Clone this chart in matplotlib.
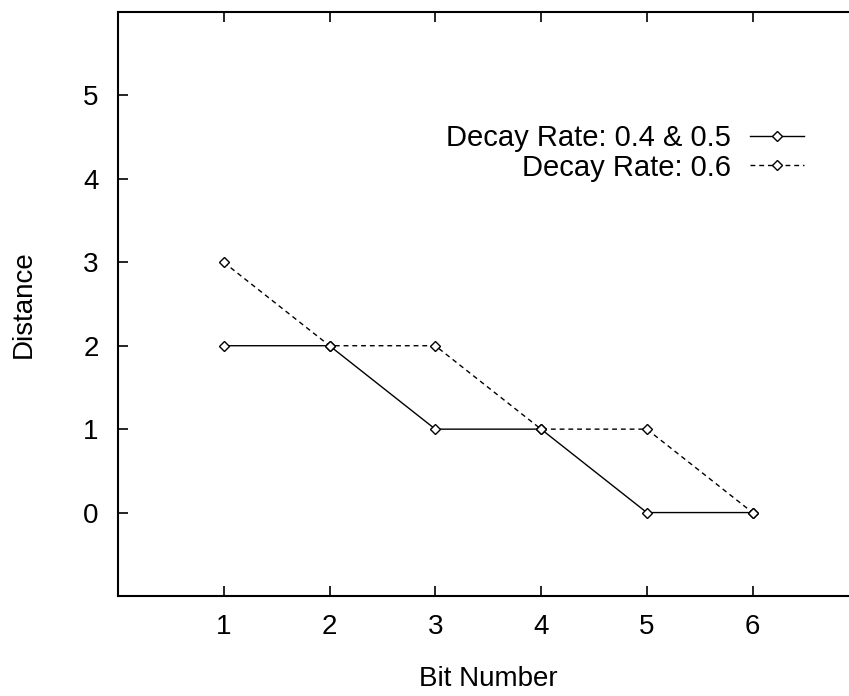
import matplotlib
matplotlib.use("Agg")
from matplotlib import pyplot as plt

plt.rcParams['font.family'] = ['Liberation Sans', 'DejaVu Sans']

bits = [1, 2, 3, 4, 5, 6]
dist_04_05 = [2, 2, 1, 1, 0, 0]
dist_06 = [3, 2, 2, 1, 1, 0]
labels = ["Decay Rate: 0.4 & 0.5", "Decay Rate: 0.6"]

fig = plt.figure(figsize=(8.49, 6.96), dpi=100)
ax = fig.add_axes([0.139, 0.1437, 0.872, 0.839])

style = dict(color="black", linewidth=1.0, marker="D", markersize=5.5,
             markerfacecolor="white", markeredgecolor="black", markeredgewidth=1.0)
ax.plot(bits, dist_04_05, label=labels[0], **style)
ax.plot(bits, dist_06, linestyle=(0, (3.5, 2.8)), label=labels[1], **style)

ax.set_xlim(0, 7)
ax.set_ylim(-1, 6)
ax.set_xticks(bits)
ax.set_yticks(range(0, 6))
ax.tick_params(direction="in", top=True, right=False, length=7, width=1.2,
               labelsize=20)
ax.tick_params(axis="y", pad=14)
ax.tick_params(axis="x", pad=13)
for s in ax.spines.values():
    s.set_linewidth(1.5)

ax.set_xlabel("Bit Number", fontsize=20, labelpad=19)
ax.set_ylabel("Distance", fontsize=20, labelpad=33)

ax.legend(loc="upper right", bbox_to_anchor=(0.926, 0.808), frameon=False, markerfirst=False,
          fontsize=21, handlelength=1.85, handletextpad=0.65, labelspacing=0.05,
          borderaxespad=0, borderpad=0)

fig.savefig("out.png", dpi=100)
